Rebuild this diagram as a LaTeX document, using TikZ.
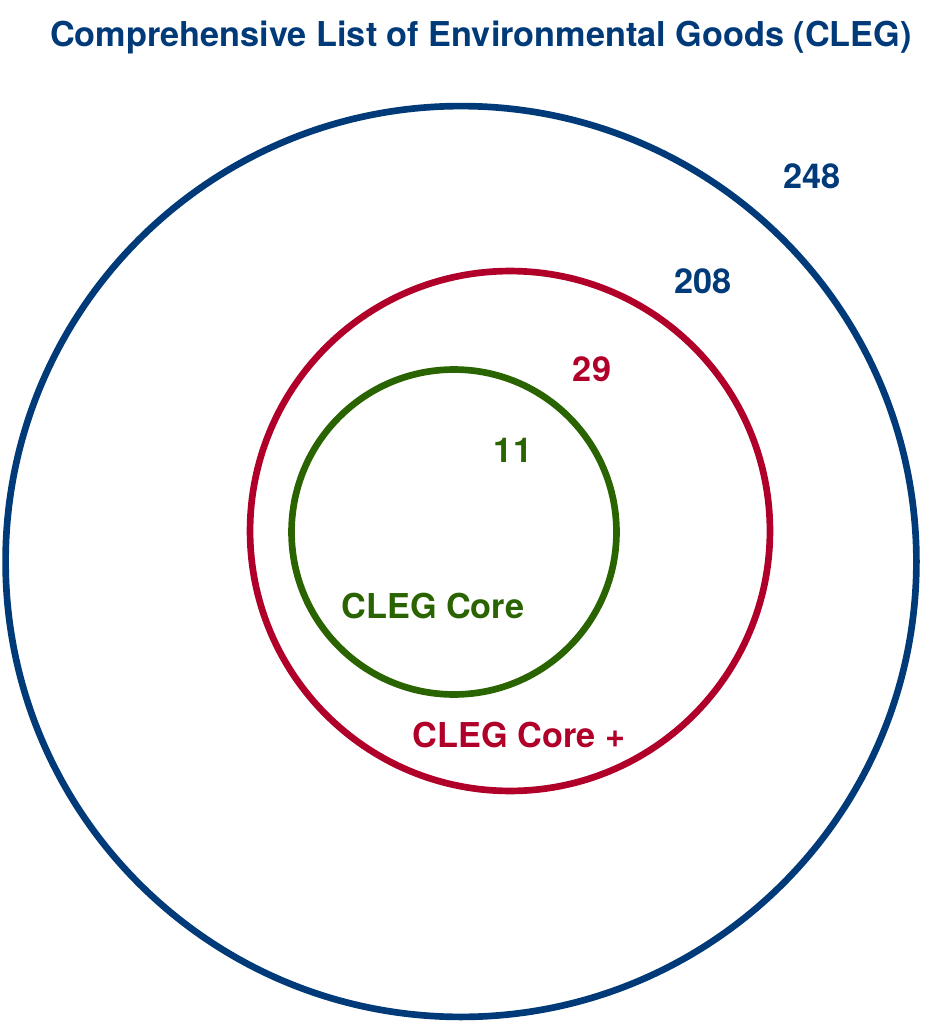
\documentclass[tikz,border=0pt]{standalone}
\usepackage{fontspec}
\setmainfont{TeX Gyre Heros}
\definecolor{clegblue}{HTML}{003A78}
\definecolor{clegred}{HTML}{B0002A}
\definecolor{cleggreen}{HTML}{2A6400}
\tikzset{
  ring/.style = {line width=3.8pt},
  lbl/.style = {font=\fontsize{19.5}{23}\selectfont\bfseries, inner sep=0pt}
}

\begin{document}
\begin{tikzpicture}[x=0.02cm,y=-0.02cm]
  \useasboundingbox (0,0) rectangle (926,1024);
  \node[lbl,clegblue] (title) at (481,37) {Comprehensive List of Environmental Goods (CLEG)};
  \draw[ring,clegblue] (461,561.5) circle[radius=9.11cm];
  \draw[ring,clegred] (510,531) circle[radius=5.2cm];
  \draw[ring,cleggreen] (454,532) circle[radius=3.25cm];
  \node[lbl,clegblue] (all) at (812,176) {248};
  \node[lbl,clegblue] (rest) at (703,281) {208};
  \node[lbl,clegred] (plus) at (592,369) {29};
  \node[lbl,cleggreen] (core) at (513,450) {11};
  \node[lbl,cleggreen] (corename) at (433,606) {CLEG Core};
  \node[lbl,clegred] (plusname) at (519,735) {CLEG Core +};
\end{tikzpicture}
\end{document}
